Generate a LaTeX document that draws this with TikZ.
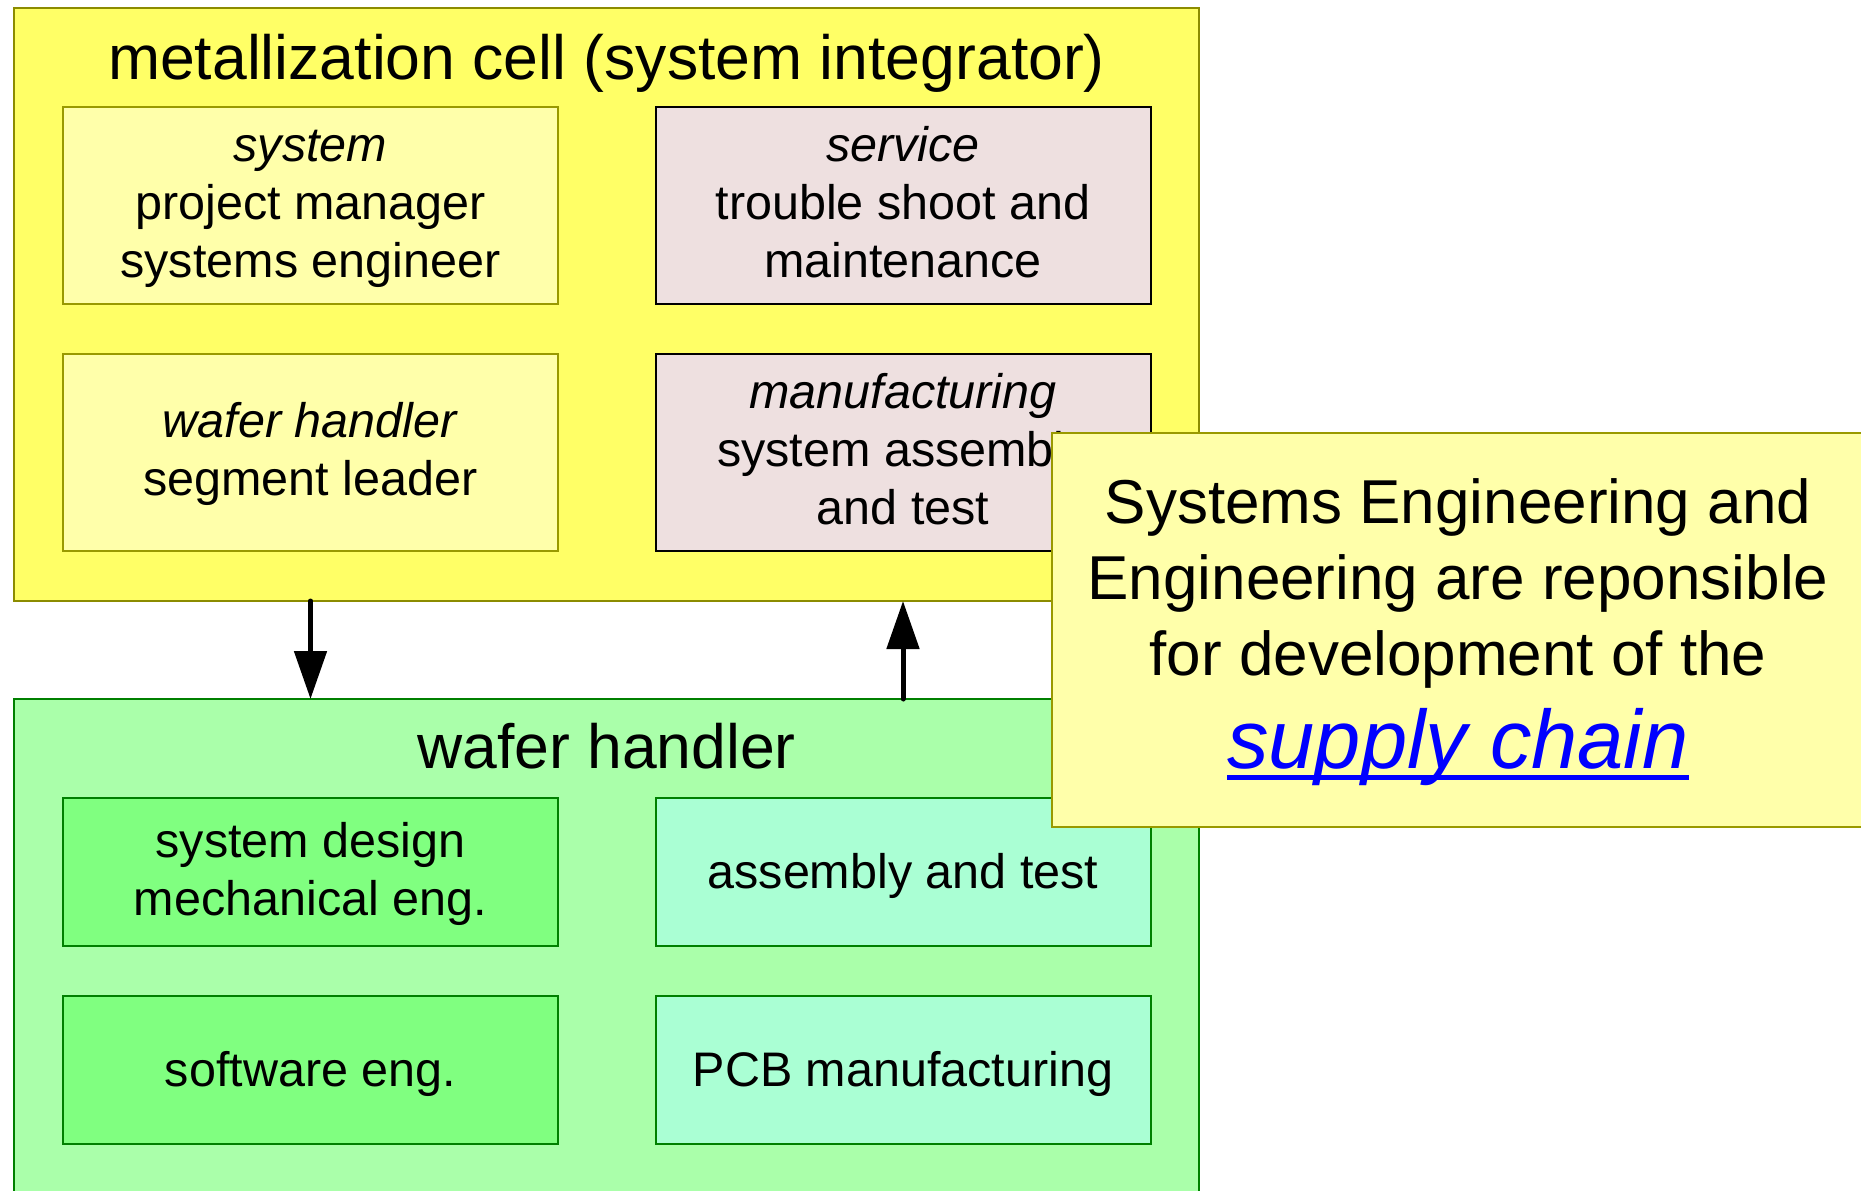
\documentclass[tikz,border=0pt]{standalone}
\usepackage{fontspec}
\setmainfont{Liberation Sans}
\usetikzlibrary{arrows.meta}
\definecolor{cellfill}{HTML}{FFFF66}
\definecolor{celldraw}{HTML}{8C8C00}
\definecolor{paleyellow}{HTML}{FFFFAA}
\definecolor{olivedraw}{HTML}{999900}
\definecolor{rosefill}{HTML}{EEE0E0}
\definecolor{greenfill}{HTML}{AAFFAA}
\definecolor{greendraw}{HTML}{008000}
\definecolor{midgreen}{HTML}{80FF80}
\definecolor{aquafill}{HTML}{AAFFD4}
\definecolor{linkblue}{HTML}{0000FF}
\newsavebox\ulbox
\newcommand\myuline[1]{\sbox\ulbox{#1}\rlap{\rule[-11bp]{\wd\ulbox}{4.5bp}}\usebox\ulbox}
\newcommand\bs{\rule[-15bp]{0pt}{58bp}}
\newcommand\bss{\rule[-15bp]{0pt}{63bp}}
\begin{document}
\begin{tikzpicture}[x=1bp,y=-1bp,
  group/.style={rectangle, line width=2bp, inner sep=0pt, outer sep=0pt},
  box/.style={rectangle, line width=2bp, minimum width=495bp, inner sep=0pt, outer sep=0pt,
    align=center, font=\fontsize{48.5bp}{58bp}\selectfont},
  topbox/.style={box, minimum height=197bp},
  lowbox/.style={box, minimum height=148bp},
  titletext/.style={anchor=base, inner sep=0pt, font=\fontsize{62.5bp}{75bp}\selectfont},
  flow/.style={line width=5bp, line cap=round, -{Triangle[width=32bp,length=48bp]}},
  notebox/.style={rectangle, line width=2bp, fill=paleyellow, draw=olivedraw, inner sep=0pt,
    minimum width=812bp, minimum height=394bp, align=center,
    font=\fontsize{62bp}{76bp}\selectfont}
]
\useasboundingbox (0,0) rectangle (1861,1190);
% metallization cell
\node[group, fill=cellfill, draw=celldraw, minimum width=1185bp, minimum height=593bp] (cell) at (606.5,304.5) {};
\node[titletext] (celltitle) at (606.5,79) {metallization cell (system integrator)};
\node[topbox, fill=paleyellow, draw=olivedraw] (sys) at (310.5,205.5) {\bs\textit{system}\\project manager\\systems engineer\bs};
\node[topbox, fill=rosefill, draw=black] (serv) at (903,205.5) {\bs\textit{service}\\trouble shoot and\\maintenance\bs};
\node[topbox, fill=paleyellow, draw=olivedraw] (wh) at (310.5,452.5) {\bs\textit{wafer handler}\\segment leader\bs};
\node[topbox, fill=rosefill, draw=black] (manu) at (903,452.5) {\bs\textit{manufacturing}\\system assembly\\and test\bs};
% wafer handler group
\node[group, fill=greenfill, draw=greendraw, minimum width=1185bp, minimum height=501bp] (wafer) at (606.5,949.5) {};
\node[titletext] (wafertitle) at (606.5,768) {wafer handler};
\node[lowbox, fill=midgreen, draw=greendraw] (design) at (310.5,872) {\bs system design\\mechanical eng.\bs};
\node[lowbox, fill=aquafill, draw=greendraw] (asm) at (903,872) {\bss assembly and test};
\node[lowbox, fill=midgreen, draw=greendraw] (soft) at (310.5,1069.5) {\bss software eng.};
\node[lowbox, fill=aquafill, draw=greendraw] (pcb) at (903,1069.5) {\bss PCB manufacturing};
% arrows
\draw[flow] (sys.south |- cell.south) -- (sys.south |- wafer.north);
\draw[flow] (serv.south |- wafer.north) -- (serv.south |- cell.south);
% note
\node[notebox] (note) at (1458,630) {\rule{0pt}{50bp}Systems Engineering and\\Engineering are reponsible\\for development of the\\[17bp]{\fontsize{83bp}{93bp}\selectfont\itshape\color{linkblue}\myuline{supply chain}}};
\end{tikzpicture}
\end{document}
